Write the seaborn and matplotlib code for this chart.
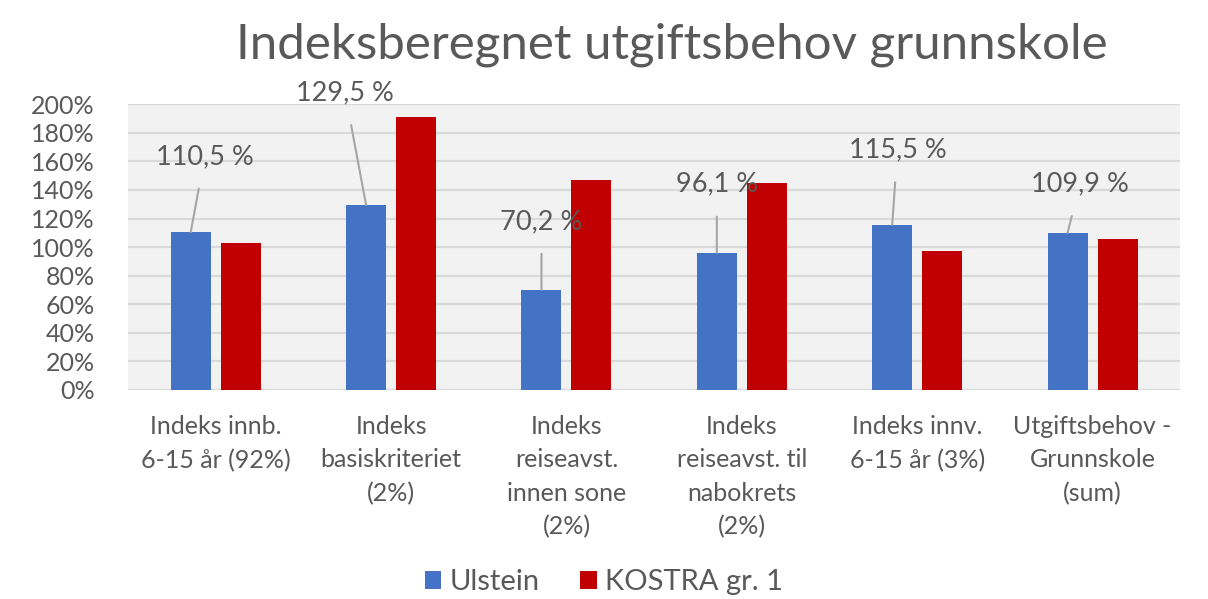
import matplotlib
matplotlib.use("Agg")
import matplotlib.pyplot as plt
import seaborn as sns
import pandas as pd
from matplotlib.ticker import FuncFormatter
from matplotlib.patches import Patch

categories = [
    "Indeks innb.\n6-15 år (92%)",
    "Indeks\nbasiskriteriet\n(2%)",
    "Indeks\nreiseavst.\ninnen sone\n(2%)",
    "Indeks\nreiseavst. til\nnabokrets\n(2%)",
    "Indeks innv.\n6-15 år (3%)",
    "Utgiftsbehov -\nGrunnskole\n(sum)",
]
series_names = ["Ulstein", "KOSTRA gr. 1"]
ulstein = [110.5, 129.5, 70.2, 96.1, 115.5, 109.9]
kostra = [103, 191, 147, 145, 97, 106]
ulstein_labels = ["110,5 %", "129,5 %", "70,2 %", "96,1 %", "115,5 %", "109,9 %"]
title = "Indeksberegnet utgiftsbehov grunnskole"

colors = ["#4472C4", "#C00000"]

df = pd.DataFrame({
    "kategori": categories * 2,
    "serie": [series_names[0]] * len(categories) + [series_names[1]] * len(categories),
    "verdi": ulstein + kostra,
})

sns.set_theme(style="white")
plt.rcParams["font.family"] = ["Lato", "DejaVu Sans"]

fig = plt.figure(figsize=(12.08, 5.99), dpi=100)
ax = fig.add_axes([0.106, 0.349, 0.871, 0.477])

sns.barplot(data=df, x="kategori", y="verdi", hue="serie", palette=colors,
            width=0.57, gap=0.2, ax=ax, legend=False, saturation=1, linewidth=0)

ax.set_facecolor("#f2f2f2")
ax.set_ylim(0, 200)
ax.set_xlim(-0.5, len(categories) - 0.5)
ax.set_yticks(range(0, 201, 20))
ax.yaxis.set_major_formatter(FuncFormatter(lambda v, p: f"{int(v)}%"))
ax.grid(axis="y", color="#d9d9d9", linewidth=1.6)
ax.set_axisbelow(True)
for s in ax.spines.values():
    s.set_visible(False)
ax.set_xlabel("")
ax.set_ylabel("")
ax.tick_params(axis="both", length=0, colors="#595959", labelsize=18)
ax.tick_params(axis="x", pad=18)
for t in ax.get_xticklabels():
    t.set_linespacing(1.55)
    t.set_verticalalignment("top")
ax.tick_params(axis="y", pad=24)

# data labels with leader lines for Ulstein bars (label positions are layout)
label_dx = [0.08, -0.12, 0.0, 0.0, 0.03, 0.07]
label_y = [163.5, 208, 118, 144, 168, 144]
blue_bars = ax.containers[0]
for bar, txt, dx, ly in zip(blue_bars, ulstein_labels, label_dx, label_y):
    cx = bar.get_x() + bar.get_width() / 2
    top = bar.get_height()
    ax.annotate(txt, xy=(cx, top), xytext=(cx + dx, ly), textcoords="data",
                ha="center", va="center", fontsize=19.5, color="#595959",
                annotation_clip=False,
                arrowprops=dict(arrowstyle="-", color="#a6a6a6", lw=1.5,
                                shrinkA=12, shrinkB=0))

fig.text(0.556, 0.925, title, ha="center", va="center", fontsize=35.5, color="#595959")

handles = [Patch(facecolor=c, edgecolor="none") for c in colors]
fig.legend(handles, series_names, loc="center", bbox_to_anchor=(0.5, 0.028),
           ncol=2, frameon=False, fontsize=21, labelcolor="#595959",
           handlelength=0.55, handleheight=0.55, handletextpad=0.3, columnspacing=1.4)

fig.savefig("out.png", dpi=100, facecolor="white")
